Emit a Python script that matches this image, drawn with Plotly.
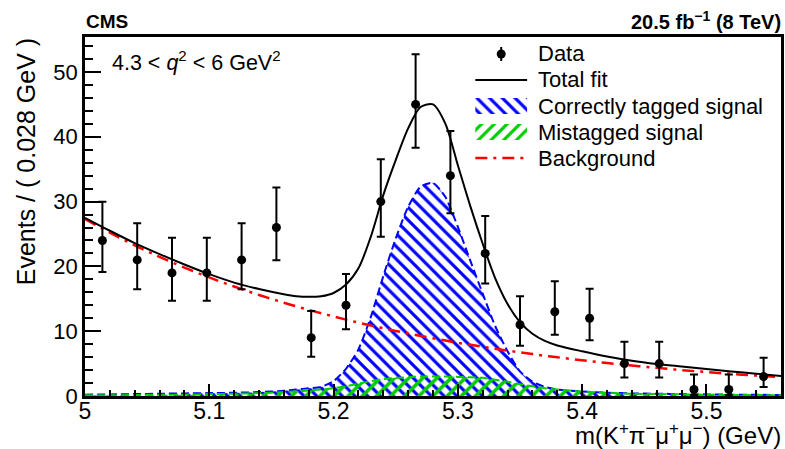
import plotly.graph_objects as go

# ---------------- data ----------------
bin_centers = [5.014, 5.042, 5.070, 5.098, 5.126, 5.154, 5.182, 5.210, 5.238, 5.266,
               5.294, 5.322, 5.350, 5.378, 5.406, 5.434, 5.462, 5.490, 5.518, 5.546]
counts = [24, 21, 19, 19, 21, 26, 9, 14, 30, 45, 34, 22, 11, 13, 12, 5, 5, 1, 1, 3]
err_up = [5.96, 5.65, 5.43, 5.43, 5.65, 6.16, 4.10, 4.83, 6.53, 7.75,
          6.88, 5.76, 4.41, 4.69, 4.55, 3.38, 3.38, 2.30, 2.30, 2.92]
err_dn = [4.86, 4.54, 4.32, 4.32, 4.54, 5.06, 2.94, 3.69, 5.44, 6.68,
          5.80, 4.65, 3.26, 3.55, 3.41, 2.16, 2.16, 0.83, 0.83, 1.63]

curve_x = [5.00, 5.02, 5.04, 5.06, 5.08, 5.10, 5.12, 5.14, 5.16, 5.17,
           5.18, 5.19, 5.20, 5.21, 5.22, 5.23, 5.24, 5.25, 5.26, 5.27,
           5.28, 5.29, 5.30, 5.31, 5.32, 5.33, 5.34, 5.35, 5.36, 5.37,
           5.38, 5.40, 5.42, 5.44, 5.46, 5.48, 5.50, 5.52, 5.54, 5.56]
background = [27.3, 25.2, 23.26, 21.47, 19.82, 18.3, 16.89, 15.59, 14.4, 13.83,
              13.29, 12.77, 12.27, 11.79, 11.32, 10.88, 10.45, 10.04, 9.65, 9.27,
              8.91, 8.56, 8.22, 7.9, 7.59, 7.29, 7.01, 6.73, 6.47, 6.21,
              5.97, 5.51, 5.09, 4.7, 4.34, 4.0, 3.69, 3.41, 3.15, 2.91]
correct_sig = [0.2, 0.25, 0.3, 0.35, 0.4, 0.45, 0.5, 0.6, 0.8, 1.0,
               1.2, 1.4, 2.3, 4.2, 7.2, 12.2, 18.5, 24.3, 29.2, 32.3,
               32.9, 30.7, 26.1, 20.9, 15.8, 10.8, 6.9, 3.8, 2.2, 1.4,
               1.0, 0.7, 0.5, 0.4, 0.35, 0.3, 0.25, 0.2, 0.2, 0.15]
mistag_sig = [0.1, 0.1, 0.15, 0.2, 0.2, 0.3, 0.35, 0.45, 0.6, 0.7,
              0.85, 1.0, 1.2, 1.5, 1.9, 2.3, 2.6, 2.8, 2.9, 3.0,
              3.0, 3.0, 2.95, 2.9, 2.8, 2.5, 2.2, 1.8, 1.5, 1.2,
              1.0, 0.7, 0.5, 0.35, 0.3, 0.25, 0.2, 0.15, 0.15, 0.1]
total_fit = [27.5, 25.5, 23.6, 21.9, 20.3, 18.8, 17.5, 16.5, 15.7, 15.4,
             15.3, 15.4, 15.9, 17.2, 19.7, 24.6, 31.0, 36.4, 41.3, 44.6,
             45.0, 42.0, 35.6, 29.3, 23.5, 18.2, 14.2, 11.4, 9.6, 8.5,
             7.8, 6.9, 6.1, 5.45, 4.95, 4.55, 4.15, 3.8, 3.45, 3.1]

x_ticks = [5.0, 5.1, 5.2, 5.3, 5.4, 5.5]
x_tick_text = ["5", "5.1", "5.2", "5.3", "5.4", "5.5"]
y_ticks = [0, 10, 20, 30, 40, 50]

legend_labels = ["Data", "Total fit", "Correctly tagged signal", "Mistagged signal", "Background"]

FONT = "Liberation Sans, Arial, Helvetica, sans-serif"
BLUE = "#0000ff"
GREEN = "#00cc00"
RED = "#ff0000"

# plot area in pixels
L, R, T, B = 85, 784, 37, 396


def px(xp):
    return (xp - L) / (R - L)


def py(yp):
    return (B - yp) / (B - T)


fig = go.Figure()

fig.add_trace(go.Scatter(
    x=curve_x, y=correct_sig, mode="lines", fill="tozeroy",
    line=dict(color=BLUE, width=2, dash="8px,4px", shape="spline", smoothing=0.6),
    fillcolor="rgba(0,0,0,0)",
    fillpattern=dict(shape="\\", fgcolor=BLUE, fgopacity=1, bgcolor="rgba(255,255,255,0)",
                     size=9, solidity=0.35),
    showlegend=False))

fig.add_trace(go.Scatter(
    x=curve_x, y=mistag_sig, mode="lines", fill="tozeroy",
    line=dict(color=GREEN, width=2, dash="8px,4px", shape="spline", smoothing=0.6),
    fillcolor="rgba(0,0,0,0)",
    fillpattern=dict(shape="/", fgcolor=GREEN, fgopacity=1, bgcolor="rgba(255,255,255,0)",
                     size=10, solidity=0.35),
    showlegend=False))

fig.add_trace(go.Scatter(
    x=curve_x, y=background, mode="lines",
    line=dict(color=RED, width=2.5, dash="12px,6px,3px,6px", shape="spline"),
    showlegend=False))

fig.add_trace(go.Scatter(
    x=curve_x, y=total_fit, mode="lines",
    line=dict(color="black", width=2, shape="spline", smoothing=0.8),
    showlegend=False))

fig.add_trace(go.Scatter(
    x=bin_centers, y=counts, mode="markers",
    marker=dict(color="black", size=9),
    error_y=dict(type="data", symmetric=False, array=err_up, arrayminus=err_dn,
                 color="black", thickness=2, width=4),
    showlegend=False))

# ---------------- hand-drawn legend (pixel-unit overlay axes) ----------------
row_y = [54, 80, 106, 132, 158]
sx0, sx1 = 477, 529
fig.add_trace(go.Scatter(
    x=[503], y=[row_y[0]], mode="markers", xaxis="x2", yaxis="y2",
    marker=dict(color="black", size=9),
    error_y=dict(type="constant", value=7, color="black", thickness=2, width=0),
    showlegend=False, hoverinfo="skip"))
fig.add_trace(go.Scatter(
    x=[sx0, sx1], y=[row_y[1], row_y[1]], mode="lines", xaxis="x2", yaxis="y2",
    line=dict(color="black", width=2), showlegend=False, hoverinfo="skip"))
for i, (col, shp) in enumerate([(BLUE, "\\"), (GREEN, "/")]):
    yc = row_y[2 + i]
    fig.add_trace(go.Scatter(
        x=[sx0, sx1, sx1, sx0, sx0], y=[yc - 8, yc - 8, yc + 8, yc + 8, yc - 8],
        mode="lines", fill="toself", xaxis="x2", yaxis="y2",
        line=dict(width=0, color="rgba(0,0,0,0)"), fillcolor="rgba(0,0,0,0)",
        fillpattern=dict(shape=shp, fgcolor=col, fgopacity=1, bgcolor="rgba(255,255,255,0)",
                         size=9, solidity=0.35),
        showlegend=False, hoverinfo="skip"))
fig.add_trace(go.Scatter(
    x=[sx0, sx1], y=[row_y[4], row_y[4]], mode="lines", xaxis="x2", yaxis="y2",
    line=dict(color=RED, width=2.5, dash="12px,6px,3px,6px"), showlegend=False, hoverinfo="skip"))

annotations = []
for lab, yc in zip(legend_labels, row_y):
    annotations.append(dict(text=lab, x=px(538), y=py(yc), xref="paper", yref="paper",
                            xanchor="left", yanchor="middle", showarrow=False,
                            font=dict(family=FONT, size=22, color="black")))

annotations += [
    dict(text="<b>CMS</b>", x=px(84), y=py(21), xref="paper", yref="paper",
         xanchor="left", yanchor="middle", showarrow=False,
         font=dict(family=FONT, size=19)),
    dict(text="<b>20.5 fb<sup>−1</sup> (8 TeV)</b>", x=px(786), y=py(20), xref="paper", yref="paper",
         xanchor="right", yanchor="middle", showarrow=False,
         font=dict(family=FONT, size=20)),
    dict(text="4.3 &lt; <i>q</i><sup>2</sup> &lt; 6 GeV<sup>2</sup>", x=px(110), y=py(61),
         xref="paper", yref="paper", xanchor="left", yanchor="middle", showarrow=False,
         font=dict(family=FONT, size=21.5)),
    dict(text="Events / ( 0.028 GeV )", x=px(26), y=py(162), xref="paper", yref="paper",
         xanchor="center", yanchor="middle", textangle=-90, showarrow=False,
         font=dict(family=FONT, size=25)),
    dict(text="m(K<sup>+</sup>π<sup>−</sup>μ<sup>+</sup>μ<sup>−</sup>) (GeV)", x=px(786), y=py(434),
         xref="paper", yref="paper", xanchor="right", yanchor="middle", showarrow=False,
         font=dict(family=FONT, size=24)),
]

axis_common = dict(showline=True, linecolor="black", linewidth=2.5, mirror=True,
                   ticks="inside", tickcolor="black", tickwidth=2,
                   showgrid=False, zeroline=False)

xaxis = dict(range=[5.0, 5.56], tickvals=x_ticks, ticktext=x_tick_text,
             ticklen=12, tickfont=dict(family=FONT, size=23, color="black"),
             ticklabelstandoff=-7,
             minor=dict(dtick=0.02, tick0=5.0, ticks="inside", ticklen=6,
                        tickwidth=2, tickcolor="black"),
             **axis_common)
yaxis = dict(range=[0, 55.4], tickvals=y_ticks,
             ticklen=16, tickfont=dict(family=FONT, size=22, color="black"),
             minor=dict(dtick=2, tick0=0, ticks="inside", ticklen=8,
                        tickwidth=2, tickcolor="black"),
             **axis_common)

fig.update_layout(
    width=785, height=449,
    margin=dict(l=L, r=785 - R, t=T, b=449 - B),
    paper_bgcolor="white", plot_bgcolor="white",
    font=dict(family=FONT, color="black"),
    showlegend=False,
    xaxis=xaxis, yaxis=yaxis,
    xaxis2=dict(overlaying="x", anchor="y2", range=[L, R], visible=False, fixedrange=True),
    yaxis2=dict(overlaying="y", anchor="x2", range=[B, T], visible=False, fixedrange=True),
    annotations=annotations,
)

fig.write_html("out.html")
